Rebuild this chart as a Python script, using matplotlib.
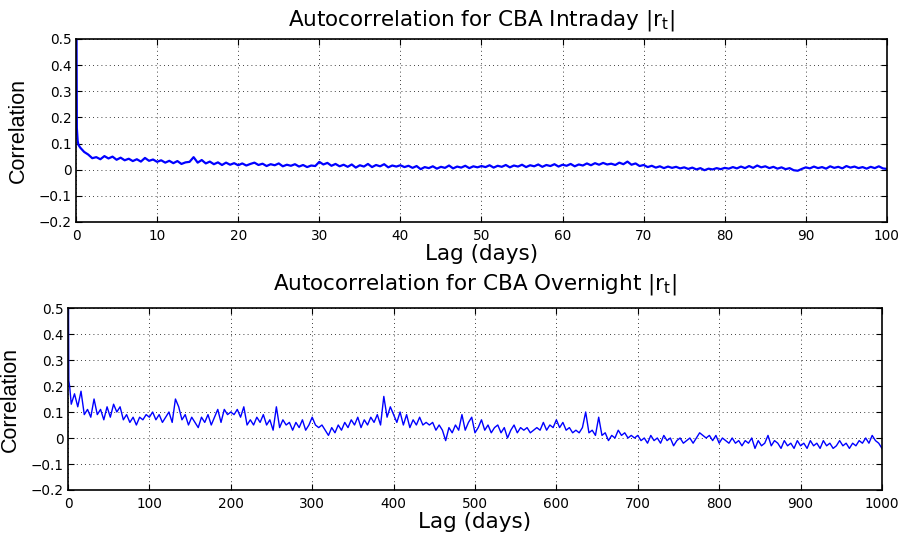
import numpy as np
import matplotlib
matplotlib.use("Agg")
import matplotlib.pyplot as plt

plt.rcParams['font.family'] = ['DejaVu Sans']
plt.rcParams['mathtext.fontset'] = 'dejavusans'

# --- intraday |r_t| autocorrelation, lag in days ---
intra_head_lags = [0.0, 0.1, 0.2, 0.3]
intra_head_vals = [1.0, 0.16, 0.11, 0.095]
intra_step = 0.5
intra_vals = [
    0.085, 0.068, 0.058, 0.044, 0.048, 0.040, 0.052, 0.043, 0.050, 0.038,
    0.046, 0.036, 0.042, 0.033, 0.040, 0.031, 0.045, 0.034, 0.039, 0.030,
    0.036, 0.027, 0.034, 0.025, 0.033, 0.022, 0.028, 0.030, 0.048, 0.027,
    0.037, 0.024, 0.031, 0.021, 0.028, 0.018, 0.027, 0.019, 0.025, 0.017,
    0.024, 0.016, 0.022, 0.027, 0.018, 0.023, 0.014, 0.021, 0.017, 0.024,
    0.013, 0.019, 0.015, 0.021, 0.012, 0.018, 0.010, 0.016, 0.014, 0.030,
    0.020, 0.026, 0.015, 0.022, 0.013, 0.019, 0.011, 0.020, 0.008, 0.017,
    0.012, 0.022, 0.010, 0.018, 0.013, 0.021, 0.009, 0.016, 0.012, 0.017,
    0.010, 0.015, 0.007, 0.014, 0.002, 0.010, 0.006, 0.013, 0.004, 0.011,
    0.007, 0.016, 0.005, 0.012, 0.008, 0.015, 0.006, 0.013, 0.009, 0.014,
    0.010, 0.017, 0.008, 0.015, 0.011, 0.018, 0.009, 0.016, 0.012, 0.019,
    0.010, 0.017, 0.013, 0.020, 0.011, 0.018, 0.014, 0.021, 0.012, 0.019,
    0.015, 0.022, 0.013, 0.020, 0.016, 0.024, 0.017, 0.025, 0.019, 0.026,
    0.020, 0.023, 0.018, 0.027, 0.021, 0.031, 0.019, 0.024, 0.014, 0.018,
    0.010, 0.015, 0.008, 0.013, 0.006, 0.012, 0.007, 0.011, 0.005, 0.009,
    0.003, 0.008, 0.001, 0.006, -0.002, 0.004, 0.001, 0.006, 0.002, 0.007,
    0.004, 0.010, 0.005, 0.012, 0.006, 0.014, 0.007, 0.016, 0.009, 0.013,
    0.006, 0.011, 0.004, 0.009, 0.002, 0.006, -0.002, -0.004, 0.003, 0.009,
    0.005, 0.012, 0.006, 0.010, 0.004, 0.013, 0.007, 0.011, 0.005, 0.014,
    0.008, 0.012, 0.006, 0.010, 0.004, 0.011, 0.006, 0.013, 0.005, 0.003,
]

# --- overnight |r_t| autocorrelation, lag in days ---
over_head_lags = [0, 1, 2]
over_head_vals = [1.0, 0.22, 0.20]
over_step = 4
over_vals = [
    0.13, 0.17, 0.12, 0.18, 0.09, 0.11, 0.08, 0.15, 0.09, 0.11, 0.07, 0.12, 0.08,
    0.13, 0.10, 0.12, 0.07, 0.09, 0.06, 0.08, 0.05, 0.08, 0.07, 0.09, 0.08,
    0.10, 0.07, 0.09, 0.06, 0.08, 0.10, 0.06, 0.15, 0.12, 0.07, 0.09, 0.05, 0.08,
    0.06, 0.04, 0.08, 0.06, 0.09, 0.05, 0.08, 0.11, 0.06, 0.11, 0.09, 0.10,
    0.09, 0.11, 0.08, 0.12, 0.05, 0.07, 0.05, 0.08, 0.06, 0.09, 0.05, 0.07, 0.03,
    0.12, 0.04, 0.07, 0.05, 0.06, 0.03, 0.06, 0.04, 0.07, 0.03, 0.05, 0.08,
    0.05, 0.04, 0.05, 0.03, 0.01, 0.04, 0.02, 0.05, 0.03, 0.06, 0.04, 0.07, 0.05,
    0.08, 0.04, 0.07, 0.05, 0.08, 0.06, 0.09, 0.05, 0.16, 0.08, 0.12, 0.09,
    0.06, 0.10, 0.05, 0.09, 0.04, 0.07, 0.05, 0.08, 0.05, 0.06, 0.05, 0.06, 0.03,
    0.05, 0.03, -0.01, 0.04, 0.02, 0.05, 0.03, 0.09, 0.03, 0.06, 0.08, 0.02,
    0.04, 0.07, 0.03, 0.05, 0.02, 0.04, 0.05, 0.02, 0.04, 0.00, 0.03, 0.05, 0.02,
    0.04, 0.03, 0.04, 0.02, 0.03, 0.04, 0.03, 0.06, 0.03, 0.05, 0.04, 0.07,
    0.04, 0.06, 0.03, 0.04, 0.02, 0.03, 0.02, 0.04, 0.10, 0.02, 0.03, 0.01, 0.08,
    0.01, 0.02, -0.01, 0.01, 0.00, 0.03, 0.01, 0.02, 0.00, 0.01, 0.00, 0.01,
    -0.01, 0.00, -0.02, 0.01, -0.01, 0.00, -0.02, 0.01, -0.01, 0.00, -0.03, -0.01,
    0.00, -0.02, -0.01, 0.00, -0.02, 0.00, 0.02, 0.01, 0.00, 0.01, -0.01, 0.01, -0.02,
    0.00, -0.01, -0.02, 0.00, -0.02, -0.01, -0.03, -0.01, -0.02, 0.00, -0.04, -0.01,
    -0.03, -0.02, 0.01, -0.03, -0.01, -0.02, -0.04, -0.01, -0.03, -0.02, -0.04,
    -0.01, -0.03,
    -0.02, -0.04, -0.01, -0.03, -0.02, -0.04, -0.01, -0.03, -0.02, -0.04, -0.03,
    -0.01, -0.03, -0.02, -0.04, -0.02, -0.03, -0.01, -0.02, 0.00, -0.02, 0.01,
    -0.01, -0.02, -0.04,
]

intra_x = np.concatenate([intra_head_lags, intra_step * np.arange(1, len(intra_vals) + 1)])
intra_y = np.concatenate([intra_head_vals, intra_vals])
over_x = np.concatenate([over_head_lags, over_step * np.arange(1, len(over_vals) + 1)])
over_y = np.concatenate([over_head_vals, over_vals])

fig = plt.figure(figsize=(9.03, 5.34), dpi=100)
ax1 = fig.add_axes([0.0842, 0.5843, 0.898, 0.3427])
ax2 = fig.add_axes([0.0753, 0.0824, 0.9014, 0.3408])


def style(ax, xmax, xticks):
    ax.set_xlim(0, xmax)
    ax.set_ylim(-0.2, 0.5)
    ax.set_xticks(xticks)
    ax.set_yticks(np.arange(-0.2, 0.51, 0.1))
    ax.set_yticklabels(['\u22120.2', '\u22120.1', '0', '0.1', '0.2', '0.3', '0.4', '0.5'])
    ax.tick_params(direction='in', top=True, right=True, length=4, width=0.8,
                   labelsize=9.8)
    ax.tick_params(axis='x', pad=5)
    ax.tick_params(axis='y', pad=3)
    ax.grid(True, linestyle=(0, (1, 4)), color='black', linewidth=0.6)
    for s in ax.spines.values():
        s.set_linewidth(1.2)
    ax.set_xlabel('Lag (days)', fontsize=15.5, labelpad=1)
    ax.set_ylabel('Correlation', fontsize=15.5, labelpad=7,
                  family=['Liberation Sans Narrow', 'Liberation Sans'])


ax1.plot(intra_x, intra_y, color='#0000ff', linewidth=1.6)
style(ax1, 100, np.arange(0, 101, 10))
ax1.set_title('Autocorrelation for CBA Intraday |r$_\\mathrm{t}$|', fontsize=15.5, pad=10)

ax2.plot(over_x, over_y, color='#0000ff', linewidth=1.0)
style(ax2, 1000, np.arange(0, 1001, 100))
ax2.set_title('Autocorrelation for CBA Overnight |r$_\\mathrm{t}$|', fontsize=15.5, pad=13)

fig.savefig('out.png', dpi=100)
